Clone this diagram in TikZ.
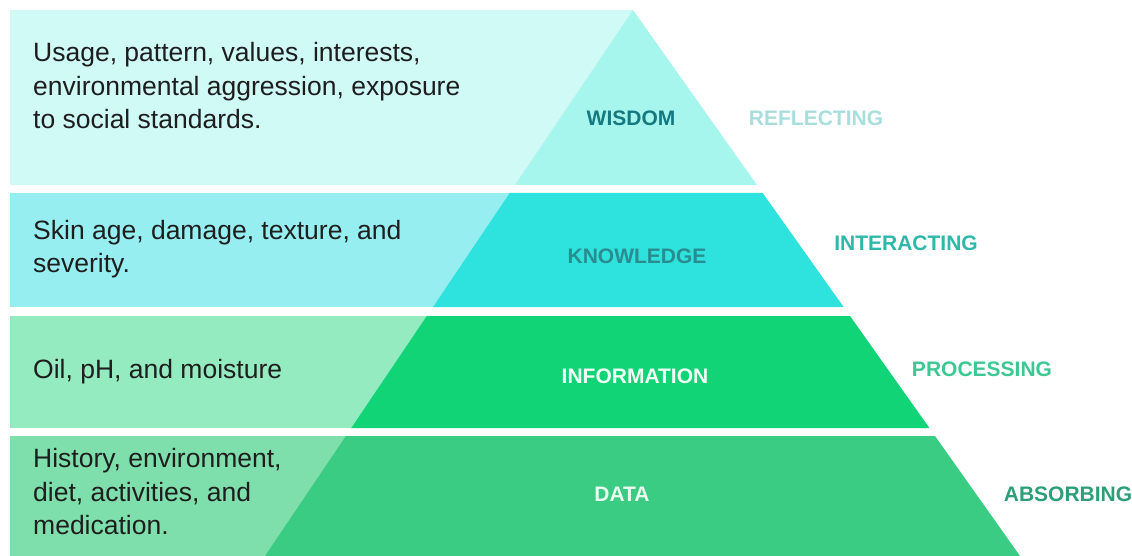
\documentclass[tikz,border=0pt]{standalone}
\usepackage{fontspec}
\setmainfont{Liberation Sans}
\definecolor{wrect}{HTML}{CFFAF6}
\definecolor{wtri}{HTML}{A7F6EE}
\definecolor{krect}{HTML}{97EEF0}
\definecolor{ktrap}{HTML}{2EE2DE}
\definecolor{irect}{HTML}{94EBC0}
\definecolor{itrap}{HTML}{10D475}
\definecolor{drect}{HTML}{7EDFAC}
\definecolor{dtrap}{HTML}{3ACC82}
\definecolor{cwis}{HTML}{147A80}
\definecolor{ckno}{HTML}{2B8C90}
\definecolor{cinf}{HTML}{F2FFF7}
\definecolor{cdat}{HTML}{EAFBF0}
\definecolor{cref}{HTML}{A8DEDD}
\definecolor{cint}{HTML}{2DB8AA}
\definecolor{cpro}{HTML}{3DC893}
\definecolor{cabs}{HTML}{2C9E78}
\definecolor{ctext}{HTML}{1E1E1E}
\begin{document}
\begin{tikzpicture}[x=1pt,y=-1pt,
  desc/.style={anchor=west,align=left,text=ctext,inner sep=0pt,
    font=\fontsize{26.5}{33.5}\selectfont},
  level/.style={font=\fontsize{21}{23}\selectfont\bfseries,inner sep=0pt},
  verb/.style={font=\fontsize{21}{23}\selectfont\bfseries,inner sep=0pt}]
\useasboundingbox (0,0) rectangle (1132,556);
\fill[white] (0,0) rectangle (1132,556);
% band 1: wisdom
\fill[wrect] (10,10) rectangle (633,185);
\fill[wtri] (633,10) -- (757,185) -- (515,185) -- cycle;
% band 2: knowledge
\fill[krect] (10,193) rectangle (600,307);
\fill[ktrap] (509.7,193) -- (762.7,193) -- (843.6,307) -- (433,307) -- cycle;
% band 3: information
\fill[irect] (10,316) rectangle (600,428);
\fill[itrap] (426.8,316) -- (850,316) -- (929.4,428) -- (351.3,428) -- cycle;
% band 4: data
\fill[drect] (10,436) rectangle (600,556);
\fill[dtrap] (345.9,436) -- (935,436) -- (1020,556) -- (265,556) -- cycle;
% descriptions
\node[desc] (t1) at (33,86) {Usage, pattern, values, interests,\\environmental aggression, exposure\\to social standards.};
\node[desc] (t2) at (33,249) {Skin age, damage, texture, and\\severity.};
\node[desc] (t3) at (33,372) {Oil, pH, and moisture};
\node[desc] (t4) at (33,492) {History, environment,\\diet, activities, and\\medication.};
% levels
\node[level,text=cwis] (wis) at (631,118) {WISDOM};
\node[level,text=ckno] (kno) at (637,256) {KNOWLEDGE};
\node[level,text=cinf] (inf) at (635,376) {INFORMATION};
\node[level,text=cdat] (dat) at (622,494) {DATA};
% verbs
\node[verb,text=cref] (ref) at (816,118) {REFLECTING};
\node[verb,text=cint] (int) at (906,243) {INTERACTING};
\node[verb,text=cpro] (pro) at (982,369) {PROCESSING};
\node[verb,text=cabs] (abs) at (1068,494) {ABSORBING};
\end{tikzpicture}
\end{document}
